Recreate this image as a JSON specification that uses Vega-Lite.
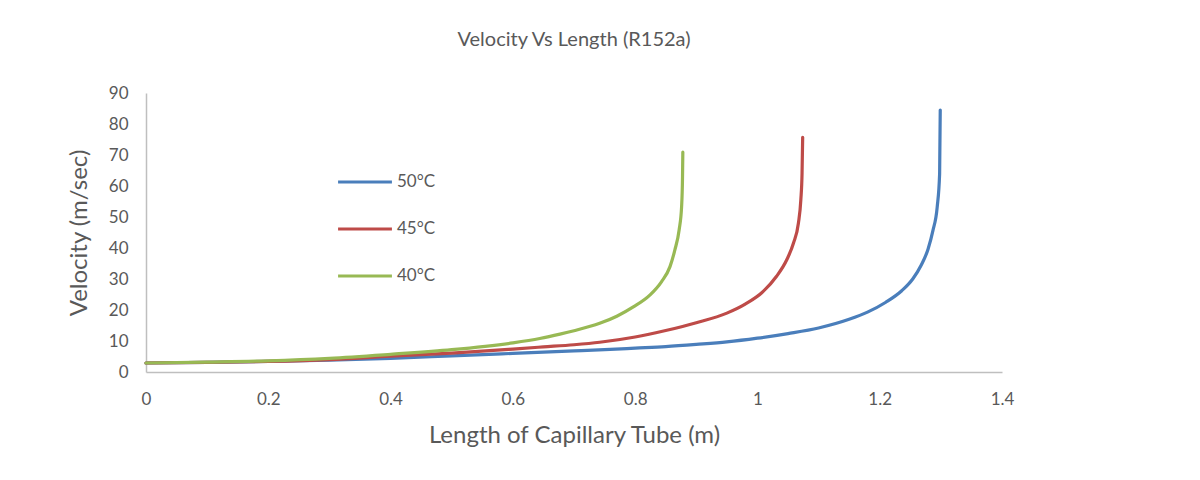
{
  "$schema": "https://vega.github.io/schema/vega-lite/v6.json",
  "autosize": "none",
  "width": 856,
  "height": 279,
  "padding": {"left": 146, "top": 93, "right": 198, "bottom": 108},
  "background": "white",
  "title": {"text": "Velocity Vs Length (R152a)", "font": "Lato", "fontSize": 20, "fontWeight": "normal", "color": "#595959", "offset": 34, "anchor": "middle"},
  "config": {"view": {"stroke": null}, "font": "Lato"},
  "data": {"values": [
    {"T":"50°C","L":0,"V":2.9},{"T":"50°C","L":0.1,"V":3.1},{"T":"50°C","L":0.2,"V":3.4},{"T":"50°C","L":0.3,"V":3.8},{"T":"50°C","L":0.4,"V":4.4},{"T":"50°C","L":0.5,"V":5.2},{"T":"50°C","L":0.6,"V":6.0},{"T":"50°C","L":0.7,"V":6.8},{"T":"50°C","L":0.75,"V":7.2},{"T":"50°C","L":0.8,"V":7.7},{"T":"50°C","L":0.85,"V":8.2},{"T":"50°C","L":0.9,"V":8.9},{"T":"50°C","L":0.95,"V":9.7},{"T":"50°C","L":1.0,"V":10.9},{"T":"50°C","L":1.05,"V":12.4},{"T":"50°C","L":1.1,"V":14.2},{"T":"50°C","L":1.15,"V":17.0},{"T":"50°C","L":1.18,"V":19.3},{"T":"50°C","L":1.21,"V":22.5},{"T":"50°C","L":1.236,"V":26.2},{"T":"50°C","L":1.254,"V":30.0},{"T":"50°C","L":1.268,"V":34.5},{"T":"50°C","L":1.279,"V":39.6},{"T":"50°C","L":1.287,"V":45.6},{"T":"50°C","L":1.294,"V":53.2},{"T":"50°C","L":1.298,"V":64},{"T":"50°C","L":1.299,"V":84.5},
    {"T":"45°C","L":0,"V":2.9},{"T":"45°C","L":0.1,"V":3.1},{"T":"45°C","L":0.2,"V":3.4},{"T":"45°C","L":0.3,"V":4.0},{"T":"45°C","L":0.4,"V":5.1},{"T":"45°C","L":0.5,"V":6.1},{"T":"45°C","L":0.6,"V":7.4},{"T":"45°C","L":0.65,"V":8.1},{"T":"45°C","L":0.7,"V":8.8},{"T":"45°C","L":0.742,"V":9.6},{"T":"45°C","L":0.8,"V":11.3},{"T":"45°C","L":0.85,"V":13.4},{"T":"45°C","L":0.9,"V":15.9},{"T":"45°C","L":0.95,"V":19.0},{"T":"45°C","L":0.98,"V":21.9},{"T":"45°C","L":1.009,"V":25.9},{"T":"45°C","L":1.031,"V":30.8},{"T":"45°C","L":1.048,"V":36.2},{"T":"45°C","L":1.059,"V":41.6},{"T":"45°C","L":1.067,"V":48.0},{"T":"45°C","L":1.071,"V":55.6},{"T":"45°C","L":1.073,"V":64.2},{"T":"45°C","L":1.074,"V":75.7},
    {"T":"40°C","L":0,"V":2.9},{"T":"40°C","L":0.1,"V":3.2},{"T":"40°C","L":0.2,"V":3.6},{"T":"40°C","L":0.3,"V":4.4},{"T":"40°C","L":0.4,"V":5.7},{"T":"40°C","L":0.5,"V":7.2},{"T":"40°C","L":0.6,"V":9.4},{"T":"40°C","L":0.644,"V":10.8},{"T":"40°C","L":0.677,"V":12.2},{"T":"40°C","L":0.7,"V":13.3},{"T":"40°C","L":0.742,"V":15.7},{"T":"40°C","L":0.77,"V":18.0},{"T":"40°C","L":0.797,"V":21.0},{"T":"40°C","L":0.824,"V":24.8},{"T":"40°C","L":0.843,"V":29.1},{"T":"40°C","L":0.857,"V":34.0},{"T":"40°C","L":0.865,"V":39.4},{"T":"40°C","L":0.872,"V":45.9},{"T":"40°C","L":0.876,"V":53.4},{"T":"40°C","L":0.8775,"V":63.1},{"T":"40°C","L":0.878,"V":70.9}
  ]},
  "mark": {"type": "line", "strokeWidth": 3.2, "interpolate": "monotone", "strokeCap": "round"},
  "encoding": {
    "x": {"field": "L", "type": "quantitative", "scale": {"domain": [0, 1.4], "nice": false},
      "axis": {"title": "Length of Capillary Tube (m)", "values": [0,0.2,0.4,0.6,0.8,1,1.2,1.4], "format": "~g", "labelFlush": false, "grid": false, "ticks": false, "domainColor": "#BFBFBF", "domainWidth": 1.5, "labelColor": "#595959", "labelFontSize": 17, "labelPadding": 19, "titleColor": "#595959", "titleFontSize": 24, "titleFontWeight": "normal", "titlePadding": 16, "labelFont": "Lato", "titleFont": "Lato"}},
    "y": {"field": "V", "type": "quantitative", "scale": {"domain": [0, 90], "nice": false},
      "axis": {"title": "Velocity (m/sec)", "values": [0,10,20,30,40,50,60,70,80,90], "labelFlush": false, "grid": false, "ticks": false, "domainColor": "#BFBFBF", "domainWidth": 1.5, "labelColor": "#595959", "labelFontSize": 17, "labelPadding": 18, "titleColor": "#595959", "titleFontSize": 24, "titleFontWeight": "normal", "titlePadding": 17, "labelFont": "Lato", "titleFont": "Lato"}},
    "color": {"field": "T", "type": "nominal", "sort": ["50°C","45°C","40°C"],
      "scale": {"domain": ["50°C","45°C","40°C"], "range": ["#4A7EBB","#BE4B48","#98B954"]},
      "legend": {"title": null, "orient": "none", "legendX": 190, "legendY": 60, "symbolType": "stroke", "symbolSize": 2900, "symbolStrokeWidth": 3.2, "rowPadding": 10, "labelFontSize": 17, "labelColor": "#595959", "labelOffset": 3, "labelFont": "Lato"}}
  }
}
